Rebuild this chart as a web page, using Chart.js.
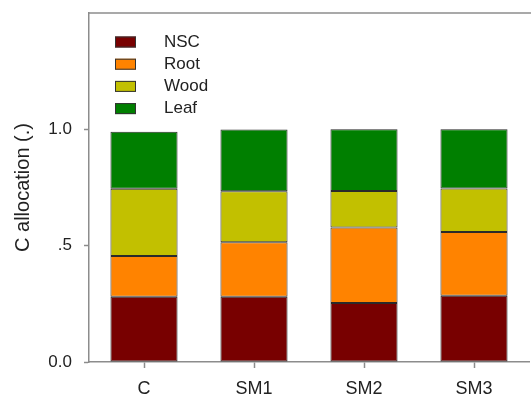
<!DOCTYPE html>
<html>
<head>
<meta charset="utf-8">
<script src="https://cdn.jsdelivr.net/npm/chart.js@4"></script>
<style>
  body { margin: 0; background: #fff; }
  #wrap { width: 531px; height: 397px; }
</style>
</head>
<body>
<div id="wrap"><canvas id="allocChart"></canvas></div>
<script>
// values
var categories = ['C', 'SM1', 'SM2', 'SM3'];
var nsc  = [0.280, 0.280, 0.254, 0.285];
var root = [0.176, 0.235, 0.324, 0.274];
var wood = [0.289, 0.219, 0.157, 0.187];
var leaf = [0.245, 0.265, 0.265, 0.254];
var yTicks = [0, 0.5, 1.0];

var axisGray = '#8c8c8c';
var textColor = '#222';
var fontFam = 'Arial, "Liberation Sans", sans-serif';

// legend inside the plot, stacked vertically like the original
var boxLegend = {
    id: 'boxLegend',
    afterDraw: function (chart) {
        var ctx = chart.ctx;
        var area = chart.chartArea;
        ctx.save();
        ctx.font = '17px ' + fontFam;
        ctx.textBaseline = 'middle';
        chart.data.datasets.forEach(function (ds, i) {
            var y = area.top + 29 + i * 22.2;
            var x = area.left + 26;
            ctx.fillStyle = ds.backgroundColor;
            ctx.fillRect(x, y - 5.5, 21, 11);
            ctx.strokeStyle = '#333';
            ctx.lineWidth = 1;
            ctx.strokeRect(x + 0.5, y - 5, 20, 10);
            ctx.fillStyle = textColor;
            ctx.fillText(ds.label, area.left + 75, y);
        });
        ctx.restore();
    }
};

// top frame line
var topFrame = {
    id: 'topFrame',
    afterDraw: function (chart) {
        var ctx = chart.ctx;
        var area = chart.chartArea;
        ctx.save();
        ctx.strokeStyle = axisGray;
        ctx.lineWidth = 1.5;
        ctx.beginPath();
        ctx.moveTo(area.left - 0.75, area.top);
        ctx.lineTo(chart.width, area.top);
        ctx.stroke();
        ctx.restore();
    }
};

var ctx = document.getElementById('allocChart').getContext('2d');
new Chart(ctx, {
    type: 'bar',
    data: {
        labels: categories,
        datasets: [
            { label: 'NSC',  data: nsc,  backgroundColor: '#780000' },
            { label: 'Root', data: root, backgroundColor: '#ff8300' },
            { label: 'Wood', data: wood, backgroundColor: '#c2c000' },
            { label: 'Leaf', data: leaf, backgroundColor: '#007f00' }
        ].map(function (d) {
            d.borderColor = '#2a2a2a';
            d.borderWidth = 1;
            d.borderSkipped = false;
            d.barPercentage = 0.61;
            d.categoryPercentage = 1.0;
            return d;
        })
    },
    options: {
        responsive: true,
        maintainAspectRatio: false,
        animation: false,
        layout: { padding: { top: 13, right: 2, left: 0, bottom: 0 } },
        plugins: {
            legend: { display: false },
            tooltip: { enabled: false }
        },
        scales: {
            x: {
                stacked: true,
                grid: {
                    offset: false,
                    drawOnChartArea: false,
                    tickLength: 6,
                    tickColor: axisGray,
                    tickWidth: 1.5
                },
                border: { display: true, color: axisGray, width: 1.5 },
                ticks: {
                    color: textColor,
                    font: { family: fontFam, size: 18 },
                    padding: 10
                },
                afterFit: function (scale) {
                    scale.height = 35;
                    scale.paddingLeft = 0;
                    scale.paddingRight = 0;
                }
            },
            y: {
                stacked: true,
                min: 0,
                max: 1.5,
                afterBuildTicks: function (scale) {
                    scale.ticks = yTicks.map(function (v) { return { value: v }; });
                },
                grid: {
                    drawOnChartArea: false,
                    tickLength: 5,
                    tickColor: axisGray,
                    tickWidth: 1.5
                },
                border: { display: true, color: axisGray, width: 1.5 },
                ticks: {
                    color: textColor,
                    font: { family: fontFam, size: 17 },
                    padding: 12,
                    callback: function (v) { return v === 0.5 ? '.5' : v.toFixed(1); }
                },
                title: {
                    display: true,
                    text: 'C allocation (.)',
                    color: textColor,
                    font: { family: fontFam, size: 20 },
                    padding: { top: 11, bottom: 0 }
                },
                afterFit: function (scale) {
                    scale.width = 89;
                    scale.paddingTop = 0;
                    scale.paddingBottom = 0;
                }
            }
        }
    },
    plugins: [boxLegend, topFrame]
});
</script>
</body>
</html>
